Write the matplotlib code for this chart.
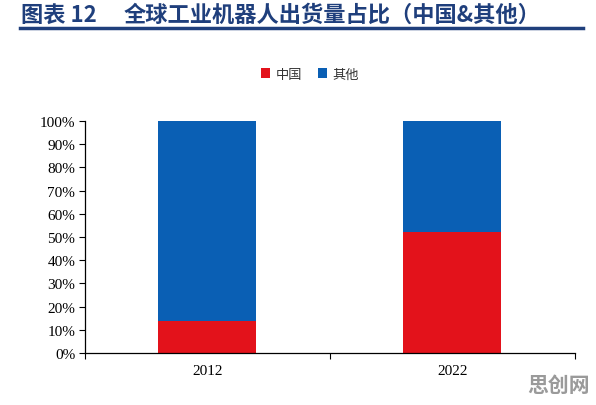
import matplotlib.pyplot as plt
from matplotlib.ticker import FixedLocator, NullFormatter, FixedFormatter

plt.rcParams['font.family'] = ['Liberation Serif', 'Noto Sans CJK SC']

# data (share of global industrial robot shipments)
years = ['2012', '2022']
china = [14, 52]
others = [86, 48]

red = '#e3121b'
blue = '#0a5fb4'
navy = '#1f3f7c'

fig = plt.figure(figsize=(5.96, 4.06), dpi=100)
ax = fig.add_axes([0.1426, 0.128, 0.822, 0.5714])

pos = [0.5, 1.5]
ax.bar(pos, china, width=0.4, color=red, label='中国')
ax.bar(pos, others, width=0.4, bottom=china, color=blue, label='其他')

ax.set_xlim(0, 2)
ax.set_ylim(0, 100)
ax.set_yticks(range(0, 101, 10))
ax.set_yticklabels([f'{v}%' for v in range(0, 101, 10)], fontsize=11)

ax.xaxis.set_major_locator(FixedLocator([0, 1, 2]))
ax.xaxis.set_major_formatter(NullFormatter())
ax.xaxis.set_minor_locator(FixedLocator(pos))
ax.xaxis.set_minor_formatter(FixedFormatter(years))
ax.tick_params(axis='x', which='minor', length=0, labelsize=11, pad=8)
ax.tick_params(axis='x', which='major', length=4, width=0.8)
ax.tick_params(axis='y', length=4, width=0.8, pad=3)

for s in ['top', 'right']:
    ax.spines[s].set_visible(False)
for s in ['left', 'bottom']:
    ax.spines[s].set_linewidth(0.9)

leg = fig.legend(loc='center', bbox_to_anchor=(0.52, 0.815), ncol=2, frameon=False,
                 handlelength=0.7, handleheight=0.7, handletextpad=0.4,
                 columnspacing=1.2, prop={'family': 'Noto Sans CJK SC', 'size': 9.5})
for t in leg.get_texts():
    t.set_color('#333333')

# header
fig.text(0.035, 0.962, '图表 12', fontsize=16, fontweight='bold', color=navy,
         family=['Noto Sans CJK SC'], va='center')
fig.text(0.208, 0.962, '全球工业机器人出货量占比（中国&其他）', fontsize=16,
         fontweight='bold', color=navy, family=['Noto Sans CJK SC'], va='center')
fig.add_artist(plt.Line2D([0.033, 0.978], [0.928, 0.928], color=navy, lw=2.5))

# watermark
fig.text(0.99, 0.05, '思创网', fontsize=15, fontweight='bold', color='#9a9a9a',
         family=['Noto Sans CJK SC'], ha='right', va='center')

fig.savefig('out.png', dpi=100)
